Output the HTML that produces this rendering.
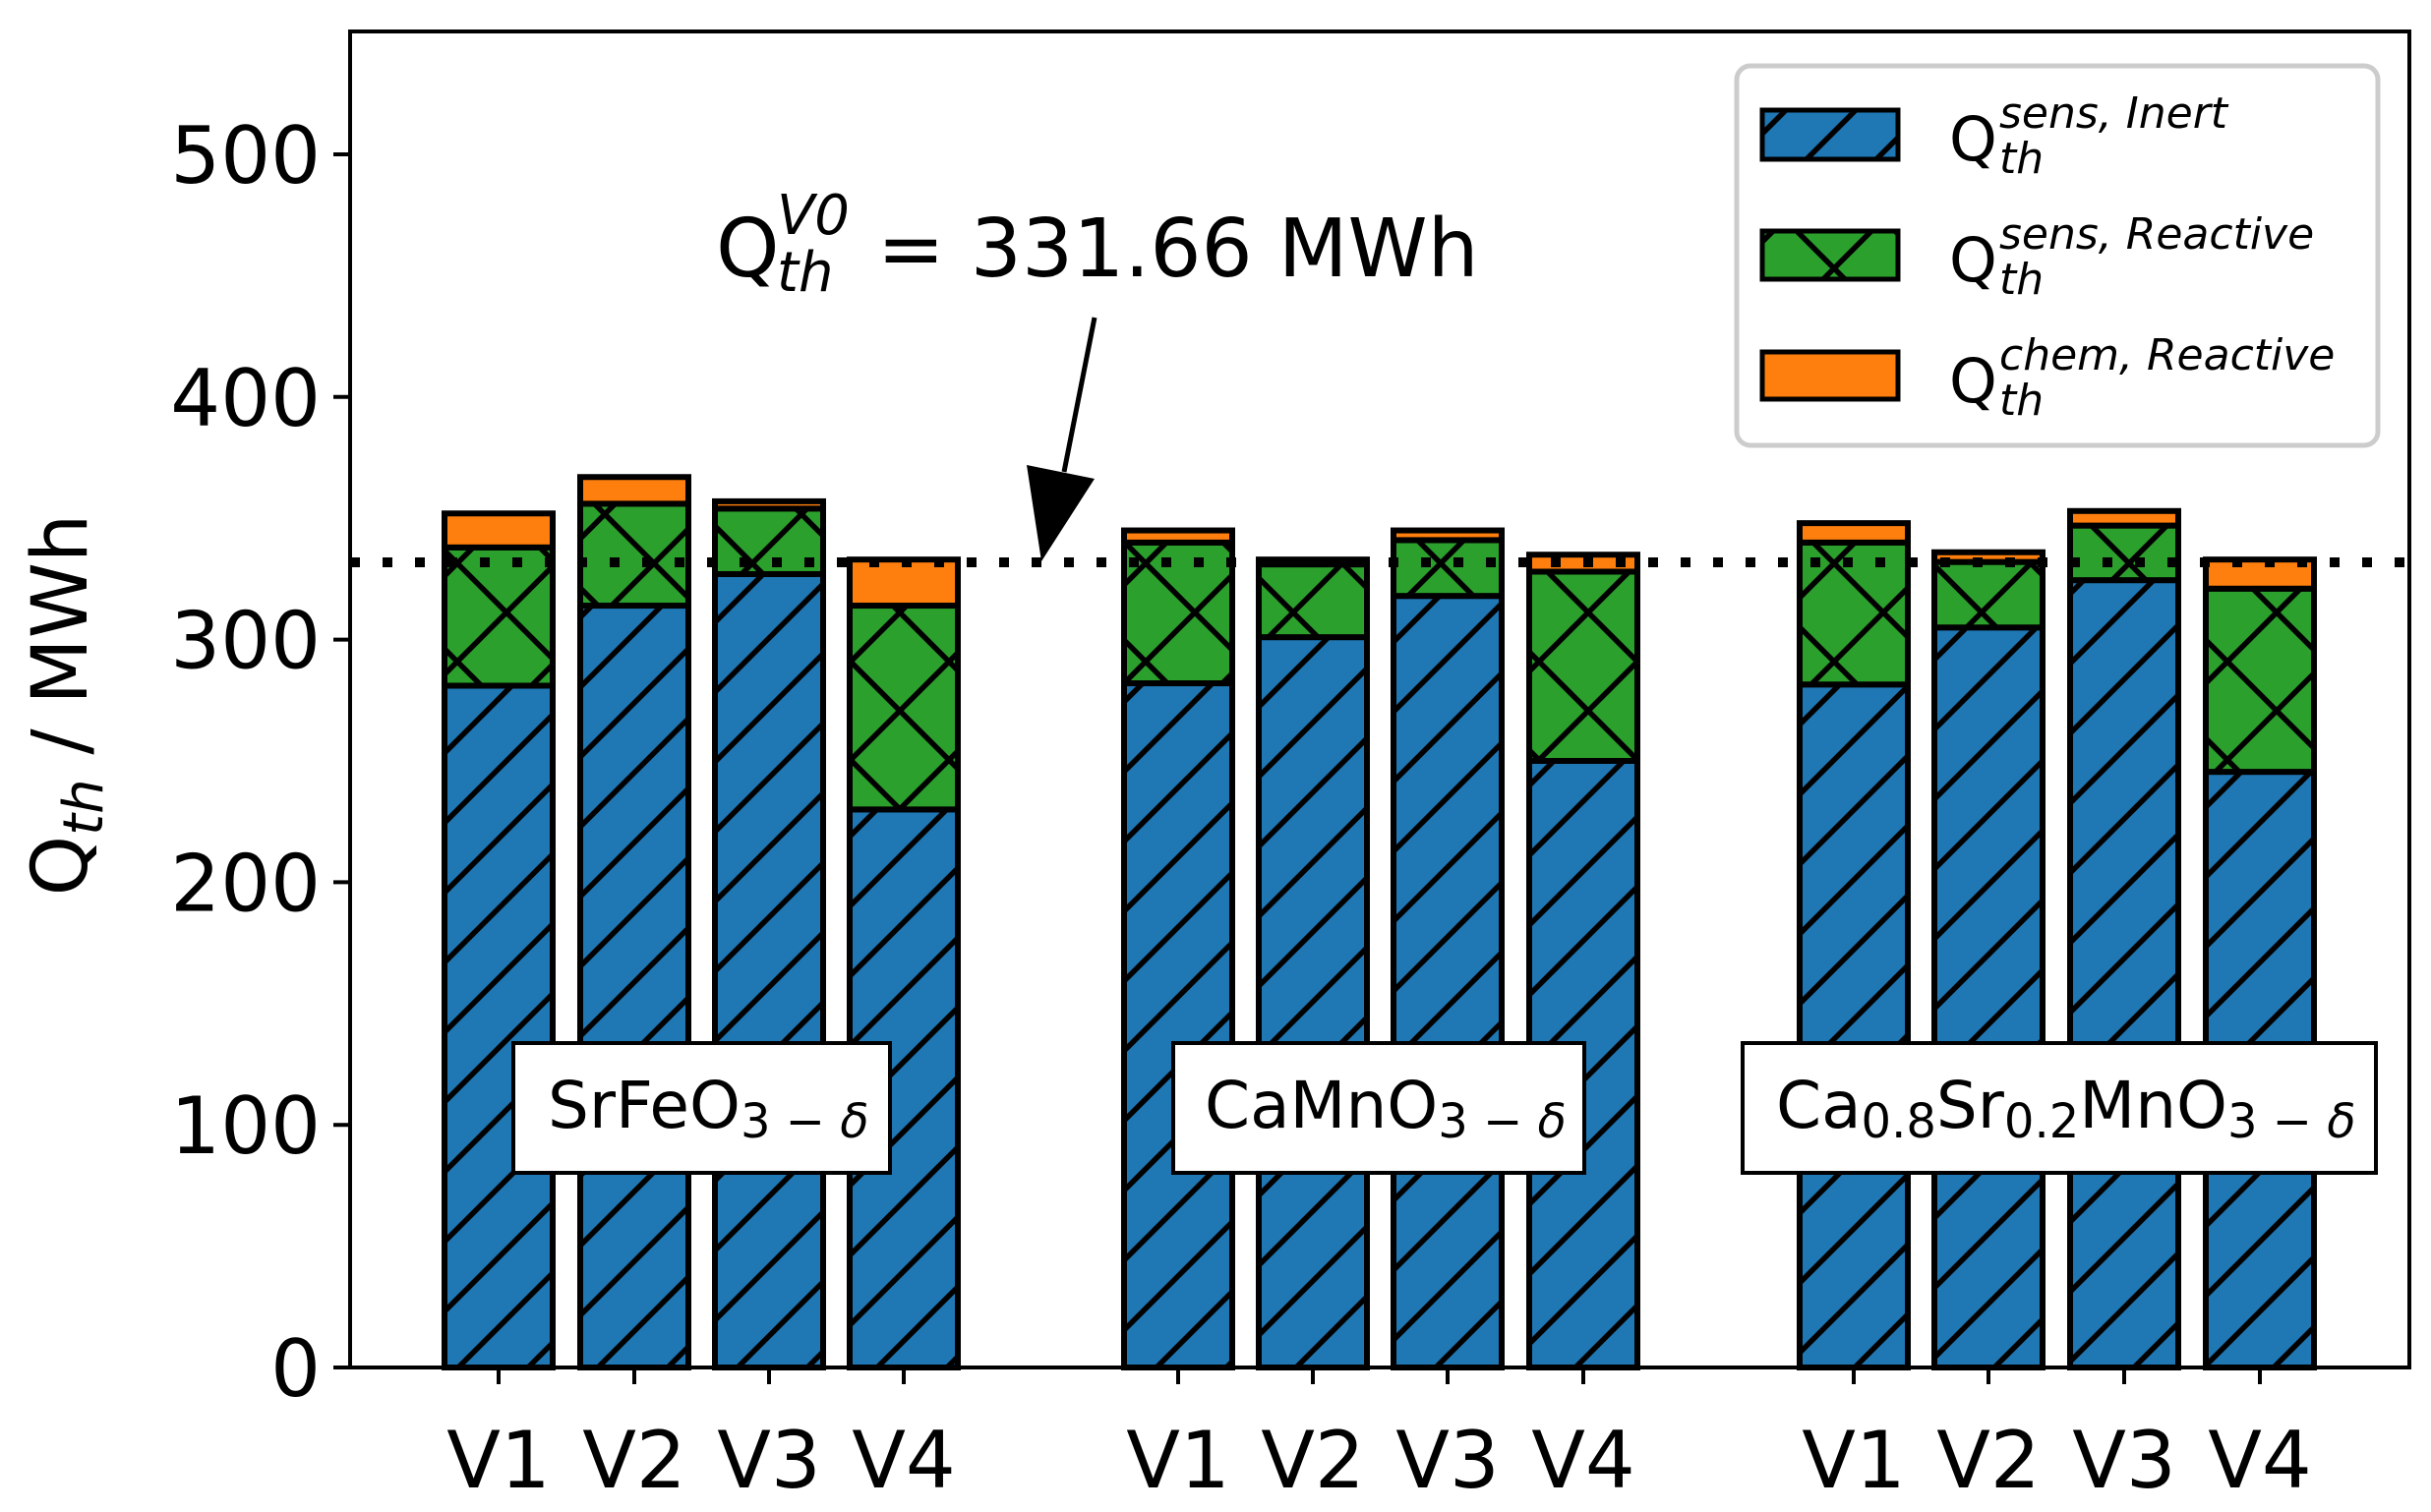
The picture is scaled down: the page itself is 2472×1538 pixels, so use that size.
<!DOCTYPE html>
<html><head><meta charset="utf-8"><style>
html,body{margin:0;padding:0;background:#fff;}
svg{display:block;font-family:"DejaVu Sans","Liberation Sans",sans-serif;}
</style></head><body>
<svg id="s" width="2472" height="1538" viewBox="0 0 2472 1538" xmlns="http://www.w3.org/2000/svg">
<defs>
<pattern id="hb" patternUnits="userSpaceOnUse" width="71" height="71" x="0" y="11">
<rect width="71" height="71" fill="#1f77b4"/>
<path d="M-10,81 L81,-10 M-40,40 L40,-40 M31,111 L111,31" stroke="#000" stroke-width="5.5"/>
</pattern>
<pattern id="hg" patternUnits="userSpaceOnUse" width="100" height="100" x="15" y="23">
<rect width="100" height="100" fill="#2ca02c"/>
<path d="M-5,105 L105,-5 M-5,-5 L105,105" stroke="#000" stroke-width="5.5"/>
</pattern>
</defs>
<g id="bars"></g>
<line x1="356" y1="572" x2="2450" y2="572" stroke="#000" stroke-width="10" stroke-dasharray="10,23"/>
<rect x="356" y="32" width="2094" height="1359" fill="none" stroke="#000" stroke-width="4"/>
<g id="ticks" font-size="80"></g>
<text transform="translate(88,717) rotate(-90)" font-size="78" text-anchor="middle">Q<tspan font-style="italic" font-size="56" dy="16">th</tspan><tspan dy="-16"> / MWh</tspan></text>
<text x="728" y="281" font-size="82">Q</text>
<text x="790" y="238" font-size="56" font-style="italic">V0</text>
<text x="790" y="296" font-size="56" font-style="italic">th</text>
<text x="892" y="281" font-size="82">= 331.66 MWh</text>
<line x1="1113" y1="323" x2="1082" y2="480" stroke="#000" stroke-width="5"/>
<polygon points="1059,571 1044,473 1113,487" fill="#000"/>
<rect x="522" y="1061" width="383" height="132" fill="#fff" stroke="#000" stroke-width="4"/>
<text x="557" y="1147" font-size="66">SrFeO<tspan font-size="48" dy="10">3 − </tspan><tspan font-size="48" font-style="italic">δ</tspan></text>
<rect x="1193" y="1061" width="418" height="132" fill="#fff" stroke="#000" stroke-width="4"/>
<text x="1225" y="1147" font-size="66">CaMnO<tspan font-size="48" dy="10">3 − </tspan><tspan font-size="48" font-style="italic">δ</tspan></text>
<rect x="1772" y="1061" width="644" height="132" fill="#fff" stroke="#000" stroke-width="4"/>
<text x="1806" y="1147" font-size="66">Ca<tspan font-size="48" dy="10">0.8</tspan><tspan dy="-10">Sr</tspan><tspan font-size="48" dy="10">0.2</tspan><tspan dy="-10">MnO</tspan><tspan font-size="48" dy="10">3 − </tspan><tspan font-size="48" font-style="italic">δ</tspan></text>
<rect x="1766" y="67" width="652" height="386" rx="14" fill="#fff" fill-opacity="0.85" stroke="#ccc" stroke-width="5"/>
<rect x="1792" y="112" width="138" height="50" fill="url(#hb)" stroke="#000" stroke-width="5"/>
<rect x="1792" y="235" width="138" height="49" fill="url(#hg)" stroke="#000" stroke-width="5"/>
<rect x="1792" y="358" width="138" height="48" fill="#ff7f0e" stroke="#000" stroke-width="5"/>
<g font-size="62">
<text x="1982" y="163">Q</text><text x="2033" y="130" font-size="44" font-style="italic">sens, Inert</text><text x="2033" y="176" font-size="44" font-style="italic">th</text>
<text x="1982" y="286">Q</text><text x="2033" y="253" font-size="44" font-style="italic">sens, Reactive</text><text x="2033" y="299" font-size="44" font-style="italic">th</text>
<text x="1982" y="409">Q</text><text x="2033" y="376" font-size="44" font-style="italic">chem, Reactive</text><text x="2033" y="422" font-size="44" font-style="italic">th</text>
</g>
</svg>
<script>
var Y=function(v){return 1391-2.468*v;};
var xs=[507,645,782,919,1198,1335,1472,1610,1885,2022,2160,2298];
var d=[[281,338,352],[314,356,367],[327,354,357],[230,314,333],
[282,340,345],[301,331,333],[318,341,345],[250,328,335],
[281.5,340,348],[305,332,336],[324.5,347,353],[245.5,321,333]];
var ns="http://www.w3.org/2000/svg",g=document.getElementById('bars'),t=document.getElementById('ticks');
function el(p,n,a,txt){var e=document.createElementNS(ns,n);for(var k in a)e.setAttribute(k,a[k]);if(txt)e.textContent=txt;p.appendChild(e);return e;}
var w=110;
for(var i=0;i<12;i++){var x=xs[i]-w/2,b=d[i][0],gr=d[i][1],o=d[i][2];
el(g,'rect',{x:x,y:Y(b),width:w,height:1391-Y(b),fill:'url(#hb)',stroke:'#000','stroke-width':6});
el(g,'rect',{x:x,y:Y(gr),width:w,height:Y(b)-Y(gr),fill:'url(#hg)',stroke:'#000','stroke-width':6});
el(g,'rect',{x:x,y:Y(o),width:w,height:Y(gr)-Y(o),fill:'#ff7f0e',stroke:'#000','stroke-width':6});
el(t,'line',{x1:xs[i],y1:1391,x2:xs[i],y2:1408,stroke:'#000','stroke-width':4});
el(t,'text',{x:xs[i],y:1513,'text-anchor':'middle'},'V'+(i%4+1));}
for(var v=0;v<=500;v+=100){var y=Y(v);
el(t,'line',{x1:339,y1:y,x2:356,y2:y,stroke:'#000','stroke-width':4});
el(t,'text',{x:326,y:y+29,'text-anchor':'end'},''+v);}
</script>
</body></html>
